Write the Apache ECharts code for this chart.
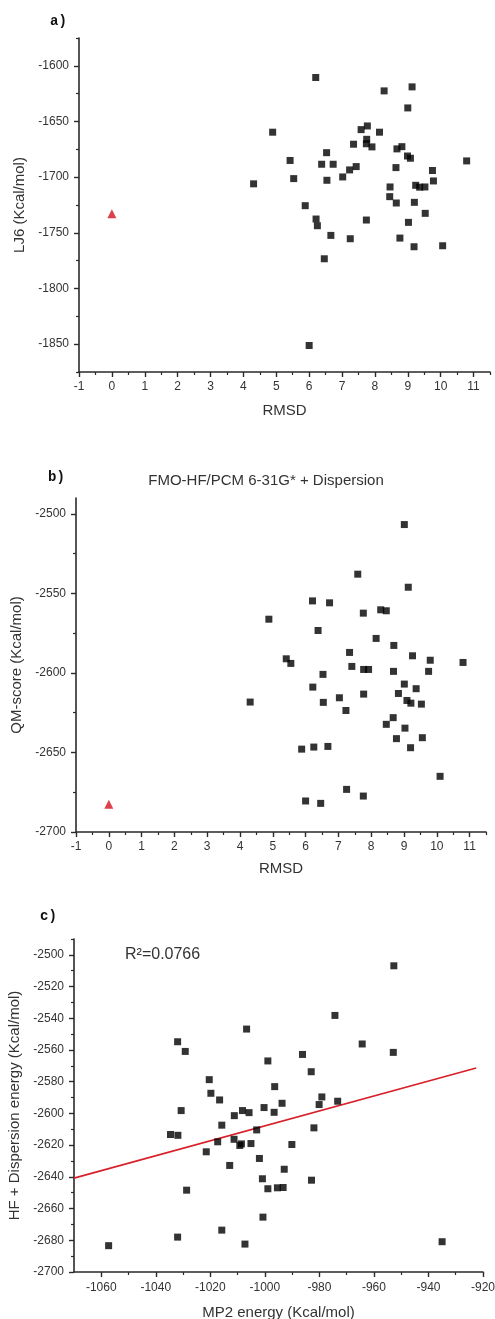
<!DOCTYPE html>
<html>
<head>
<meta charset="utf-8">
<script src="https://cdn.jsdelivr.net/npm/echarts@6/dist/echarts.min.js"></script>
<style>
html,body{margin:0;padding:0;background:#fff;}
#chart{width:495px;height:1319px;}
</style>
</head>
<body>
<div id="chart"></div>
<script>
// ---------- Panel a: RMSD vs LJ6 ----------
const aRmsd = [6.20, 4.89, 8.28, 9.13, 9.00, 7.58, 7.77, 8.14, 7.75, 7.74, 7.91, 7.35, 6.53, 5.42, 8.67, 8.82, 8.99, 9.08, 6.38, 6.73, 7.43, 7.23, 8.64, 10.79, 9.75, 9.78, 5.53, 6.54, 7.02, 4.31, 8.46, 9.24, 9.36, 9.52, 8.45, 5.88, 8.65, 9.20, 9.53, 6.21, 6.25, 7.74, 9.02, 6.66, 7.25, 8.76, 9.19, 10.06, 6.46, 6.00];
const aLJ6 = [-1610.5, -1659.6, -1622.5, -1618.9, -1637.8, -1657.3, -1654.0, -1659.6, -1666.0, -1670.0, -1672.8, -1670.4, -1678.0, -1685.0, -1674.6, -1672.6, -1681.0, -1683.0, -1688.4, -1688.4, -1690.5, -1693.5, -1691.4, -1685.4, -1694.0, -1703.4, -1701.3, -1702.8, -1699.8, -1706.0, -1708.8, -1707.3, -1709.0, -1708.8, -1717.5, -1725.6, -1723.2, -1722.6, -1732.5, -1737.6, -1743.6, -1738.5, -1740.6, -1752.3, -1755.3, -1754.7, -1762.5, -1761.6, -1773.3, -1851.2];
const aNativeRmsd = [0];
const aNativeLJ6 = [-1732.8];

// ---------- Panel b: RMSD vs QM-score ----------
const bRmsd = [9.01, 7.59, 9.13, 6.21, 6.73, 7.76, 8.29, 8.46, 4.88, 6.38, 8.15, 8.69, 7.34, 9.26, 5.41, 5.55, 9.80, 10.80, 7.41, 7.77, 7.92, 8.68, 9.75, 6.53, 9.01, 6.22, 9.37, 7.77, 8.83, 7.03, 4.31, 6.54, 9.09, 9.21, 9.53, 7.23, 8.67, 8.46, 9.03, 9.56, 8.77, 5.88, 6.25, 6.68, 9.20, 10.10, 6.00, 6.46, 7.25, 7.76];
const bQM = [-2506.7, -2537.9, -2546.1, -2554.7, -2555.9, -2562.4, -2560.3, -2560.9, -2566.2, -2573.3, -2578.3, -2582.7, -2587.1, -2589.2, -2591.1, -2594.0, -2592.0, -2593.4, -2595.9, -2597.8, -2597.8, -2599.0, -2599.0, -2600.9, -2607.0, -2608.9, -2609.9, -2613.3, -2612.9, -2615.6, -2618.3, -2618.5, -2617.3, -2619.0, -2619.6, -2623.6, -2628.1, -2632.3, -2634.7, -2640.7, -2641.3, -2647.9, -2646.6, -2646.2, -2647.0, -2665.0, -2680.5, -2682.0, -2673.2, -2677.4];
const bNativeRmsd = [0];
const bNativeQM = [-2682.6];

// ---------- Panel c: MP2 vs HF + Dispersion ----------
const cMP2 = [-952.7, -974.3, -1006.7, -1032.0, -964.3, -1029.2, -952.9, -986.2, -998.9, -983.0, -1020.4, -996.4, -1019.8, -979.1, -1016.6, -973.3, -993.7, -980.1, -1000.3, -1030.7, -1008.2, -1005.8, -996.6, -1011.2, -1015.8, -982.0, -1003.0, -1034.6, -1031.9, -1011.3, -1017.3, -1008.6, -1009.2, -1005.1, -990.1, -1021.5, -1002.0, -1012.9, -992.9, -1000.9, -982.9, -1028.7, -998.9, -995.4, -993.3, -1000.7, -1032.0, -1015.8, -1007.3, -1057.3, -935.0];
const cHFD = [-2506.9, -2538.2, -2546.8, -2554.8, -2556.2, -2560.9, -2561.5, -2562.8, -2566.9, -2573.7, -2578.7, -2583.1, -2587.3, -2589.6, -2591.5, -2592.3, -2593.6, -2594.4, -2596.3, -2598.2, -2598.2, -2599.5, -2599.3, -2601.4, -2607.4, -2609.1, -2610.4, -2613.3, -2613.8, -2616.3, -2617.9, -2619.2, -2620.2, -2619.0, -2619.6, -2624.2, -2628.4, -2632.8, -2635.2, -2641.2, -2642.1, -2648.4, -2647.5, -2646.9, -2646.7, -2665.4, -2678.0, -2673.6, -2682.4, -2683.4, -2680.9];
const cFitX = [-1070, -922.5];
const cFitY = [-2640.8, -2571.3];

// ---------- Tick labels ----------
const aXTicks = [-1, 0, 1, 2, 3, 4, 5, 6, 7, 8, 9, 10, 11];
const aYTicks = [-1850, -1800, -1750, -1700, -1650, -1600];
const bXTicks = [-1, 0, 1, 2, 3, 4, 5, 6, 7, 8, 9, 10, 11];
const bYTicks = [-2700, -2650, -2600, -2550, -2500];
const cXTicks = [-1060, -1040, -1020, -1000, -980, -960, -940, -920];
const cYTicks = [-2700, -2680, -2660, -2640, -2620, -2600, -2580, -2560, -2540, -2520, -2500];

const FONT = '"Liberation Sans", Arial, sans-serif';
const AXC = '#333';

function zip(xs, ys) { return xs.map((x, i) => [x, ys[i]]); }
function steps(a, b, s) { const r = []; for (let v = a; v <= b + 1e-9; v += s) r.push(+v.toFixed(6)); return r; }

function mainAxis(dim, grid, min, max, ticks, name, nameGap, labelMargin) {
  const ax = {
    type: 'value', gridIndex: grid, min: min, max: max,
    position: dim === 'x' ? 'bottom' : 'left',
    name: name, nameLocation: 'middle', nameGap: nameGap,
    nameTextStyle: { fontFamily: FONT, fontSize: 15, color: AXC },
    axisLine: { show: true, onZero: false, lineStyle: { color: '#2a2a2a', width: 1.6 } },
    axisTick: { show: true, length: 5, inside: false, customValues: ticks, lineStyle: { color: '#2a2a2a', width: 1.4 } },
    axisLabel: { show: true, customValues: ticks, fontFamily: FONT, fontSize: 12, color: AXC, margin: labelMargin,
                 formatter: function (v) { return String(v); } },
    splitLine: { show: false }
  };
  if (dim === 'y') ax.nameRotate = 90;
  return ax;
}
function minorAxis(dim, grid, min, max, ticks) {
  return {
    type: 'value', gridIndex: grid, min: min, max: max,
    position: dim === 'x' ? 'bottom' : 'left', offset: 0,
    axisLine: { show: false, onZero: false },
    axisTick: { show: true, length: 3, inside: false, customValues: ticks, lineStyle: { color: '#2a2a2a', width: 1.2 } },
    axisLabel: { show: false },
    splitLine: { show: false }
  };
}

const sq = { color: '#000' };
const tri = { color: '#d3111c' };

const option = {
  animation: false,
  backgroundColor: '#fff',
  grid: [
    { left: 79, right: 5, top: 38, height: 334, outerBoundsMode: 'none', containLabel: false },
    { left: 76, right: 9, top: 498, height: 334, outerBoundsMode: 'none', containLabel: false },
    { left: 74, right: 12, top: 939, height: 333, outerBoundsMode: 'none', containLabel: false }
  ],
  xAxis: [
    mainAxis('x', 0, -1, 11.5, aXTicks, 'RMSD', 31, 9),
    minorAxis('x', 0, -1, 11.5, steps(-0.5, 11.5, 1)),
    mainAxis('x', 1, -1, 11.5, bXTicks, 'RMSD', 29, 9),
    minorAxis('x', 1, -1, 11.5, steps(-0.5, 11.5, 1)),
    mainAxis('x', 2, -1070, -920, cXTicks, 'MP2 energy (Kcal/mol)', 33, 10),
    minorAxis('x', 2, -1070, -920, steps(-1050, -930, 20))
  ],
  yAxis: [
    mainAxis('y', 0, -1875, -1575, aYTicks, 'LJ6 (Kcal/mol)', 50, 10),
    minorAxis('y', 0, -1875, -1575, steps(-1875, -1575, 50)),
    mainAxis('y', 1, -2700, -2490, bYTicks, 'QM-score (Kcal/mol)', 49, 10),
    minorAxis('y', 1, -2700, -2490, steps(-2675, -2525, 50)),
    mainAxis('y', 2, -2700, -2490, cYTicks, 'HF + Dispersion energy (Kcal/mol)', 51, 10),
    minorAxis('y', 2, -2700, -2490, steps(-2690, -2490, 20))
  ],
  series: [
    { type: 'scatter', xAxisIndex: 0, yAxisIndex: 0, symbol: 'rect', symbolSize: 7, itemStyle: sq, data: zip(aRmsd, aLJ6) },
    { type: 'scatter', xAxisIndex: 0, yAxisIndex: 0, symbol: 'triangle', symbolSize: 9, itemStyle: tri, data: zip(aNativeRmsd, aNativeLJ6) },
    { type: 'scatter', xAxisIndex: 2, yAxisIndex: 2, symbol: 'rect', symbolSize: 7, itemStyle: sq, data: zip(bRmsd, bQM) },
    { type: 'scatter', xAxisIndex: 2, yAxisIndex: 2, symbol: 'triangle', symbolSize: 9, itemStyle: tri, data: zip(bNativeRmsd, bNativeQM) },
    { type: 'line', xAxisIndex: 4, yAxisIndex: 4, showSymbol: false, symbol: 'none', lineStyle: { color: '#d8202a', width: 1.6 }, data: zip(cFitX, cFitY), z: 1 },
    { type: 'scatter', xAxisIndex: 4, yAxisIndex: 4, symbol: 'rect', symbolSize: 7, itemStyle: sq, data: zip(cMP2, cHFD), z: 3 }
  ],
  graphic: [
    { type: 'text', left: 50, top: 14, style: { text: 'a)', font: 'bold 14px "Liberation Mono", "DejaVu Sans Mono", monospace', fill: '#111' } },
    { type: 'text', left: 48, top: 470, style: { text: 'b)', font: 'bold 14px "Liberation Mono", "DejaVu Sans Mono", monospace', fill: '#111' } },
    { type: 'text', left: 40, top: 909, style: { text: 'c)', font: 'bold 14px "Liberation Mono", "DejaVu Sans Mono", monospace', fill: '#111' } },
    { type: 'text', x: 266, y: 481, style: { text: 'FMO-HF/PCM 6-31G* + Dispersion', font: '15px "Liberation Sans", Arial, sans-serif', fill: AXC, textAlign: 'center', textVerticalAlign: 'middle' } },
    { type: 'text', x: 125, y: 955, style: { text: 'R²=0.0766', font: '16px "Liberation Sans", Arial, sans-serif', fill: AXC, textAlign: 'left', textVerticalAlign: 'middle' } }
  ]
};

const chart = echarts.init(document.getElementById('chart'), null, { renderer: 'canvas', width: 495, height: 1319 });
chart.setOption(option);
</script>
</body>
</html>
